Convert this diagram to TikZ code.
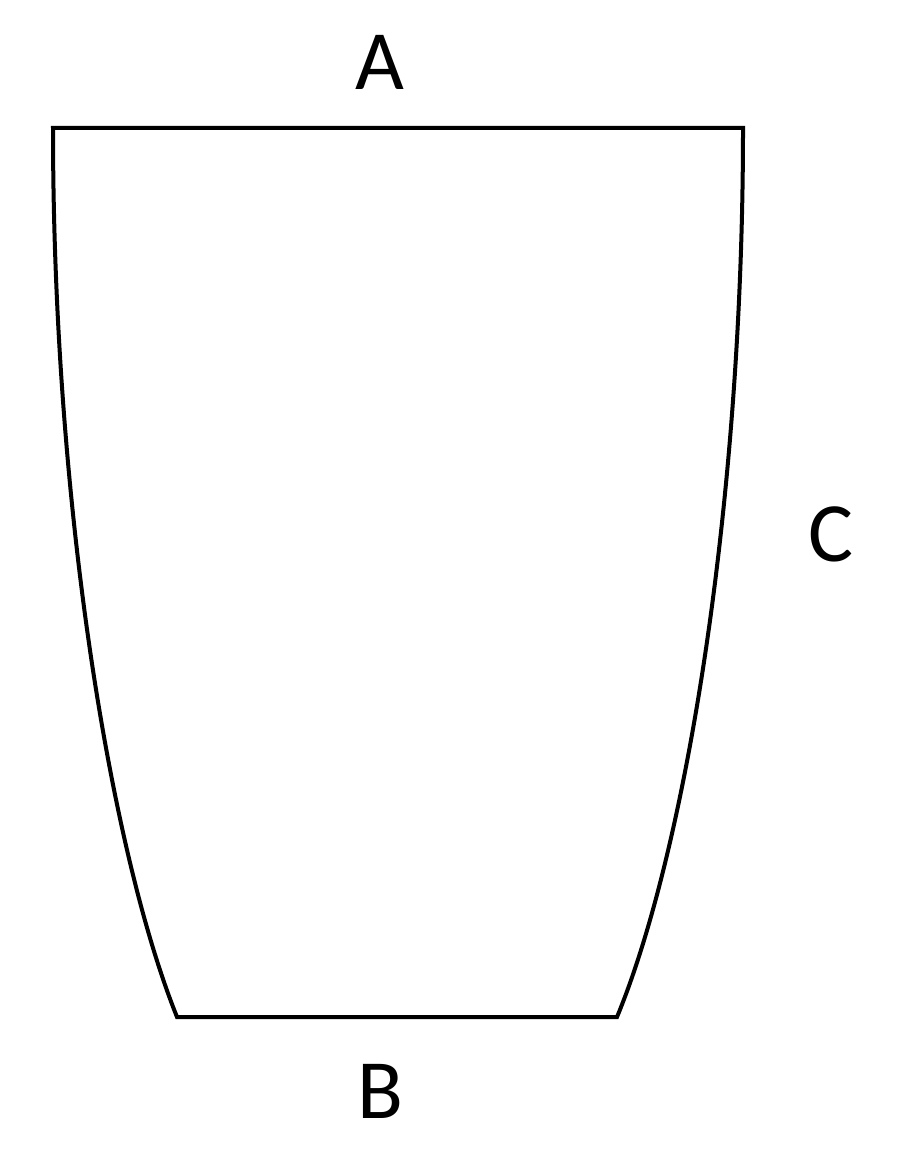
\documentclass[tikz,border=0pt]{standalone}
\usepackage{fontspec}
\setmainfont{Carlito}
\usepackage{tikz}

\begin{document}
\begin{tikzpicture}[x=0.01cm,y=-0.01cm,
		cupline/.style={line width=0.04cm,line join=miter},
		lbl/.style={anchor=base,inner sep=0pt,font=\fontsize{24}{28}\selectfont}]
			\useasboundingbox (0,0) rectangle (896,1152);
			\coordinate (TL) at (53,128);
			\coordinate (TR) at (743,128);
			\coordinate (BL) at (177,1017);
			\coordinate (BR) at (617,1017);
			
			\draw[cupline] (TL) -- (TR)
				.. controls (743,500) and (686,850) .. (BR) -- (BL)
				.. controls (110,850) and (53,500) .. cycle;
			
			\node (A) at (380,90)   [lbl] {A};
			\node (B) at (380,1118) [lbl] {B};
			\node (C) at (831,561)  [lbl] {C};
		\end{tikzpicture}
\end{document}
